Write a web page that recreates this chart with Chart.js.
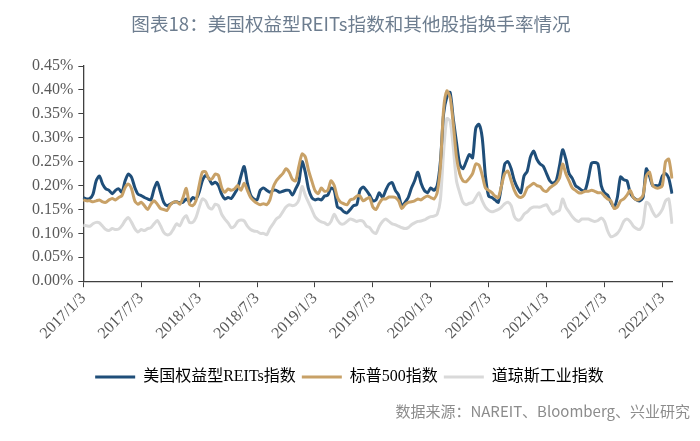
<!DOCTYPE html>
<html>
<head>
<meta charset="utf-8">
<script src="https://cdn.jsdelivr.net/npm/chart.js@4.4.1/dist/chart.umd.min.js"></script>
<style>
html, body { margin: 0; padding: 0; background: #fff; }
#wrap { position: relative; width: 700px; height: 441px; }
#title { position: absolute; top: 9px; left: 0; width: 702px; text-align: center; font: 18.6px "Noto Sans CJK SC"; color: #6d7d8f; }
#source { position: absolute; right: 10px; top: 400px; font: 15px "Noto Sans CJK SC"; color: #8c8c8c; }
canvas { position: absolute; left: 0; top: 0; }
</style>
</head>
<body>
<div id="wrap">
  <canvas id="chart" width="700" height="441"></canvas>
  <div id="title">图表18：美国权益型REITs指数和其他股指换手率情况</div>
  <div id="source">数据来源：NAREIT、Bloomberg、兴业研究</div>
</div>
<script>
// ----- DATA -----
// one point on the 3rd, 13th and 23rd of each month, 2017/1/3 .. 2022/2/3
const startYear = 2017, startMonth = 1;
const pointDays = [3, 13, 23];
const pointCount = 184;

const tickLabels = ['2017/1/3', '2017/7/3', '2018/1/3', '2018/7/3', '2019/1/3', '2019/7/3',
                    '2020/1/3', '2020/7/3', '2021/1/3', '2021/7/3', '2022/1/3'];

const seriesNames = ['美国权益型REITs指数', '标普500指数', '道琼斯工业指数'];

// turnover, %
const reits = [
  0.175, 0.172, 0.173, 0.182, 0.210, 0.220, 0.203, 0.193, 0.190, 0.183, 0.190, 0.193,
  0.186, 0.210, 0.224, 0.217, 0.196, 0.182, 0.179, 0.175, 0.172, 0.170, 0.193, 0.207,
  0.186, 0.165, 0.158, 0.161, 0.165, 0.166, 0.164, 0.165, 0.172, 0.166, 0.175, 0.172,
  0.186, 0.210, 0.221, 0.215, 0.203, 0.207, 0.200, 0.182, 0.172, 0.175, 0.173, 0.183,
  0.195, 0.220, 0.240, 0.205, 0.180, 0.172, 0.170, 0.190, 0.195, 0.190, 0.186, 0.190,
  0.190, 0.186, 0.188, 0.190, 0.190, 0.180, 0.193, 0.207, 0.250, 0.228, 0.193, 0.175,
  0.170, 0.172, 0.170, 0.178, 0.180, 0.195, 0.190, 0.155, 0.152, 0.145, 0.143, 0.150,
  0.158, 0.160, 0.190, 0.197, 0.190, 0.180, 0.168, 0.170, 0.185, 0.175, 0.190, 0.203,
  0.206, 0.190, 0.180, 0.157, 0.165, 0.175, 0.195, 0.210, 0.228, 0.205, 0.190, 0.185,
  0.195, 0.190, 0.200, 0.250, 0.350, 0.385, 0.395, 0.340, 0.290, 0.245, 0.235, 0.250,
  0.265, 0.258, 0.320, 0.328, 0.300, 0.220, 0.178, 0.175, 0.170, 0.165, 0.200, 0.245,
  0.250, 0.235, 0.210, 0.195, 0.185, 0.220, 0.230, 0.260, 0.272, 0.255, 0.245, 0.240,
  0.225, 0.210, 0.205, 0.210, 0.240, 0.275, 0.255, 0.225, 0.215, 0.200, 0.195, 0.190,
  0.190, 0.215, 0.247, 0.248, 0.245, 0.200, 0.185, 0.180, 0.165, 0.155, 0.175, 0.218,
  0.212, 0.210, 0.185, 0.175, 0.170, 0.168, 0.175, 0.235, 0.220, 0.200, 0.200, 0.200,
  0.220, 0.225, 0.215, 0.183
];

const sp500 = [
  0.170, 0.168, 0.168, 0.166, 0.168, 0.170, 0.166, 0.165, 0.170, 0.173, 0.170, 0.175,
  0.179, 0.196, 0.203, 0.193, 0.168, 0.161, 0.165, 0.158, 0.150, 0.161, 0.168, 0.161,
  0.152, 0.150, 0.148, 0.159, 0.165, 0.166, 0.161, 0.175, 0.194, 0.161, 0.158, 0.168,
  0.200, 0.228, 0.229, 0.214, 0.214, 0.224, 0.221, 0.196, 0.186, 0.193, 0.190, 0.193,
  0.200, 0.190, 0.205, 0.190, 0.175, 0.168, 0.163, 0.160, 0.162, 0.160, 0.170, 0.196,
  0.210, 0.218, 0.225, 0.235, 0.228, 0.213, 0.210, 0.240, 0.266, 0.260, 0.232, 0.210,
  0.190, 0.183, 0.195, 0.188, 0.190, 0.210, 0.200, 0.175, 0.165, 0.162, 0.160, 0.170,
  0.172, 0.178, 0.178, 0.168, 0.172, 0.175, 0.155, 0.150, 0.163, 0.172, 0.172, 0.176,
  0.176, 0.175, 0.168, 0.152, 0.160, 0.165, 0.166, 0.168, 0.172, 0.170, 0.175, 0.178,
  0.175, 0.172, 0.185, 0.240, 0.360, 0.398, 0.385, 0.330, 0.260, 0.225, 0.210, 0.208,
  0.215, 0.225, 0.245, 0.243, 0.222, 0.195, 0.190, 0.185, 0.178, 0.175, 0.200, 0.225,
  0.230, 0.210, 0.190, 0.178, 0.175, 0.180, 0.195, 0.200, 0.205, 0.200, 0.198, 0.190,
  0.188, 0.195, 0.200, 0.205, 0.215, 0.245, 0.225, 0.210, 0.195, 0.190, 0.185, 0.185,
  0.188, 0.188, 0.190, 0.188, 0.185, 0.185, 0.178, 0.172, 0.168, 0.152, 0.155, 0.168,
  0.172, 0.180, 0.190, 0.175, 0.170, 0.172, 0.180, 0.220, 0.228, 0.200, 0.195, 0.195,
  0.200, 0.250, 0.255, 0.215
];

const dowJones = [
  0.117, 0.116, 0.115, 0.120, 0.123, 0.122, 0.115, 0.108, 0.106, 0.110, 0.108, 0.109,
  0.116, 0.127, 0.133, 0.123, 0.110, 0.103, 0.108, 0.106, 0.110, 0.112, 0.120, 0.127,
  0.116, 0.102, 0.097, 0.099, 0.109, 0.120, 0.116, 0.130, 0.137, 0.123, 0.123, 0.133,
  0.154, 0.172, 0.168, 0.154, 0.151, 0.161, 0.158, 0.140, 0.130, 0.122, 0.112, 0.115,
  0.125, 0.128, 0.126, 0.115, 0.108, 0.105, 0.104, 0.100, 0.100, 0.097, 0.110, 0.120,
  0.130, 0.135, 0.145, 0.155, 0.160, 0.158, 0.160, 0.170, 0.198, 0.180, 0.165, 0.150,
  0.135, 0.128, 0.124, 0.122, 0.118, 0.125, 0.140, 0.128, 0.120, 0.120, 0.125, 0.130,
  0.128, 0.125, 0.127, 0.125, 0.115, 0.112, 0.103, 0.100, 0.115, 0.125, 0.130, 0.125,
  0.120, 0.118, 0.115, 0.112, 0.110, 0.112, 0.118, 0.122, 0.125, 0.126, 0.128, 0.132,
  0.135, 0.136, 0.140, 0.170, 0.270, 0.340, 0.335, 0.280, 0.210, 0.185, 0.165, 0.160,
  0.163, 0.165, 0.175, 0.185, 0.168, 0.155, 0.148, 0.145, 0.147, 0.150, 0.155, 0.162,
  0.165, 0.158, 0.135, 0.128, 0.130, 0.140, 0.145, 0.152, 0.155, 0.155, 0.155, 0.158,
  0.160, 0.148, 0.140, 0.145, 0.148, 0.172, 0.155, 0.145, 0.135, 0.128, 0.125, 0.130,
  0.130, 0.130, 0.127, 0.125, 0.127, 0.132, 0.125, 0.105, 0.093, 0.095, 0.100, 0.110,
  0.125, 0.130, 0.125, 0.115, 0.110, 0.108, 0.120, 0.165, 0.160, 0.145, 0.135, 0.140,
  0.150, 0.168, 0.172, 0.120
];

const yTicks = { min: 0, max: 0.45, step: 0.05 };
const colors = ['#1f4e79', '#c8a167', '#d9d9d9'];

// ----- HELPERS -----
function buildDates() {
  const out = [];
  for (let i = 0; i < pointCount; i++) {
    const m = startMonth - 1 + Math.floor(i / 3);
    const y = startYear + Math.floor(m / 12);
    out.push(`${y}/${(m % 12) + 1}/${pointDays[i % 3]}`);
  }
  return out;
}

const dates = buildDates();
const tickIndexes = tickLabels.map(t => dates.indexOf(t));

const axisColor = '#404040';
const tickFont = { family: 'Liberation Serif', size: 16 };

function makeDataset(label, data, color, order) {
  return {
    label, data,
    borderColor: color, backgroundColor: color,
    borderWidth: 3, pointRadius: 0, tension: 0.25,
    order
  };
}

// ----- CHART -----
new Chart(document.getElementById('chart'), {
  type: 'line',
  data: {
    labels: dates,
    datasets: [
      makeDataset(seriesNames[0], reits, colors[0], 1),
      makeDataset(seriesNames[1], sp500, colors[1], 0),
      makeDataset(seriesNames[2], dowJones, colors[2], 2)
    ]
  },
  options: {
    responsive: false,
    animation: false,
    layout: { padding: { top: 66, left: 27, right: 28, bottom: 46 } },
    scales: {
      x: {
        type: 'category',
        offset: false,
        border: { color: axisColor, width: 1.3 },
        grid: { drawOnChartArea: false, drawTicks: true, tickLength: 6, color: axisColor },
        afterBuildTicks: scale => { scale.ticks = tickIndexes.map(i => ({ value: i })); },
        afterFit: scale => { scale.height += 18; },
        ticks: {
          autoSkip: false, maxRotation: 45, minRotation: 45, padding: 2,
          color: '#595959', font: tickFont,
          callback: function (v) { return this.getLabelForValue(v); }
        }
      },
      y: {
        min: yTicks.min, max: yTicks.max,
        border: { color: axisColor, width: 1.3 },
        grid: { drawOnChartArea: false, drawTicks: true, tickLength: 5, color: axisColor },
        ticks: {
          stepSize: yTicks.step, padding: 5, color: '#595959', font: tickFont,
          callback: v => v.toFixed(2) + '%'
        }
      }
    },
    plugins: {
      title: { display: false },
      tooltip: { enabled: false },
      legend: {
        position: 'bottom',
        labels: {
          sort: (a, b) => a.datasetIndex - b.datasetIndex,
          boxWidth: 40, boxHeight: 3, padding: 6,
          color: '#404040',
          font: { family: 'Liberation Serif, "Noto Sans CJK SC"', size: 16 },
          generateLabels: chart => chart.data.datasets.map((d, i) => ({
            text: d.label, datasetIndex: i,
            fillStyle: d.borderColor, strokeStyle: d.borderColor, lineWidth: 0
          }))
        }
      }
    }
  }
});
</script>
</body>
</html>
